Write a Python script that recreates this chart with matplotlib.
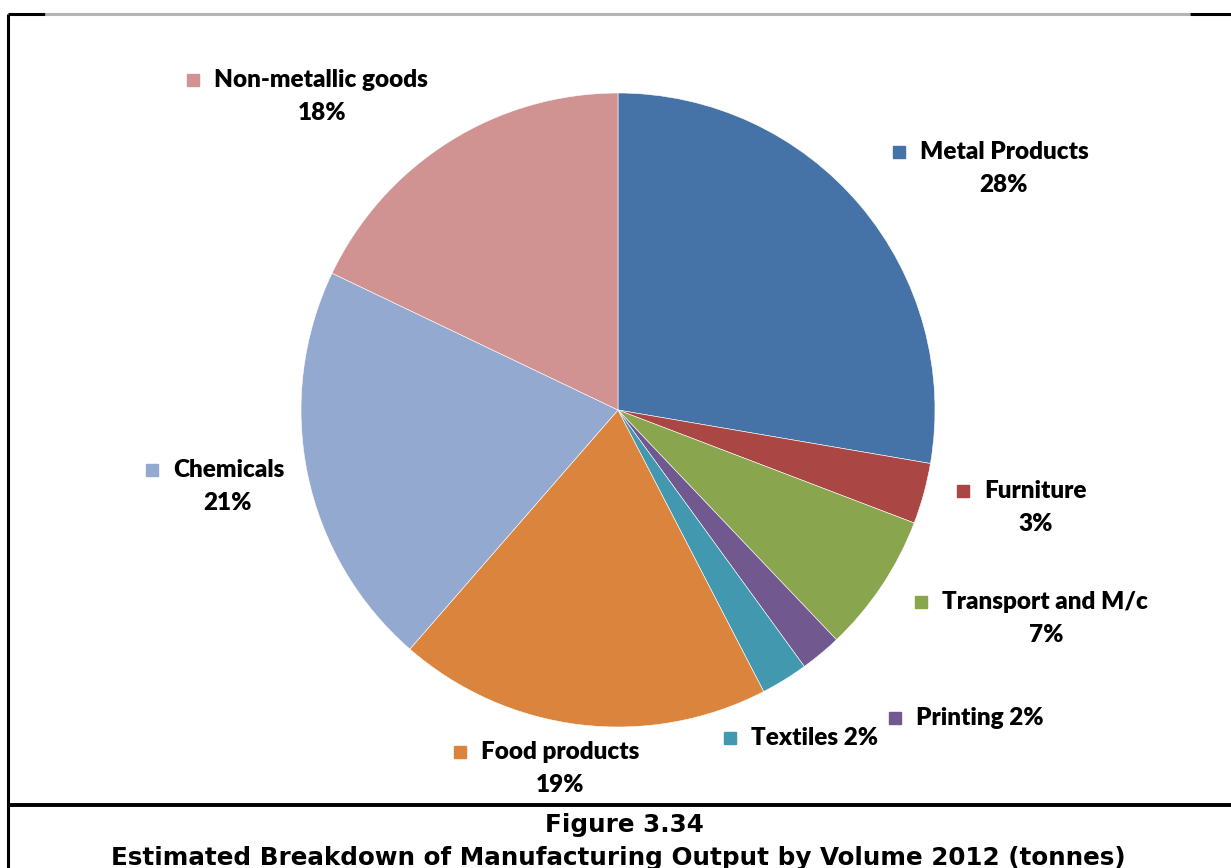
import matplotlib.pyplot as plt
from matplotlib.patches import Rectangle

# Shares of manufacturing output by volume, 2012 (percent)
SECTORS = ['Metal Products', 'Furniture', 'Transport and M/c', 'Printing',
           'Textiles', 'Food products', 'Chemicals', 'Non-metallic goods']
SHARES = [27.7, 3.1, 7.1, 2.1, 2.4, 19.0, 20.7, 17.9]
PCT_TEXT = ['28%', '3%', '7%', '2%', '2%', '19%', '21%', '18%']
COLORS = ['#4572A7', '#AA4643', '#89A54E', '#71588F',
          '#4198AF', '#DB843D', '#93A9CF', '#D19392']

# label layout in pixel coords: square x, text y, pct x, pct on same line
LABEL_POS = {
    'Metal Products':     (899, 152, 1003, False),
    'Furniture':          (963, 491, 1036, False),
    'Transport and M/c':  (921, 602, 1046, False),
    'Printing':           (895, 718, None, True),
    'Textiles':           (730, 738, None, True),
    'Food products':      (460, 752, 560, False),
    'Chemicals':          (152, 470, 228, False),
    'Non-metallic goods': (193, 80, 322, False),
}

W, H = 1231, 868
fig = plt.figure(figsize=(W / 100, H / 100), dpi=100)
ax = fig.add_axes([0, 0, 1, 1])

ax.pie(SHARES, colors=COLORS, startangle=90, counterclock=False,
       center=(618, H - 410), radius=317,
       wedgeprops=dict(linewidth=0.4, edgecolor='white'), frame=True)
ax.set_xlim(0, W)
ax.set_ylim(0, H)
ax.set_aspect('auto')
ax.axis('off')

font = dict(family=['Lato', 'DejaVu Sans'], fontweight='heavy',
            fontsize=17.5, color='black')

for name, color, pct in zip(SECTORS, COLORS, PCT_TEXT):
    sx, ty, px, inline = LABEL_POS[name]
    y = H - ty
    ax.add_patch(Rectangle((sx - 6, y - 6), 12, 12, color=color))
    if inline:
        ax.text(sx + 21, y, f'{name} {pct}', ha='left', va='center', **font)
    else:
        ax.text(sx + 21, y, name, ha='left', va='center', **font)
        ax.text(px, y - 33, pct, ha='center', va='center', **font)

# frame lines around the chart area
ax.plot([8, 8], [0, H - 14], color='black', lw=2.2, solid_capstyle='butt')
ax.plot([8, 45], [H - 14, H - 14], color='black', lw=2.2, solid_capstyle='butt')
ax.plot([45, 1190], [H - 14, H - 14], color='#b4b4b4', lw=2.2, solid_capstyle='butt')
ax.plot([1190, W], [H - 14, H - 14], color='black', lw=2.2, solid_capstyle='butt')
ax.plot([8, W], [H - 805, H - 805], color='black', lw=2.8, solid_capstyle='butt')

cap = dict(family='DejaVu Sans', fontweight='bold', fontsize=17.7,
           ha='center', va='baseline', color='black')
ax.text(624, H - 832, 'Figure 3.34', **cap)
ax.text(618, H - 865, 'Estimated Breakdown of Manufacturing Output by Volume 2012 (tonnes)', **cap)

fig.savefig('out.png', dpi=100)
